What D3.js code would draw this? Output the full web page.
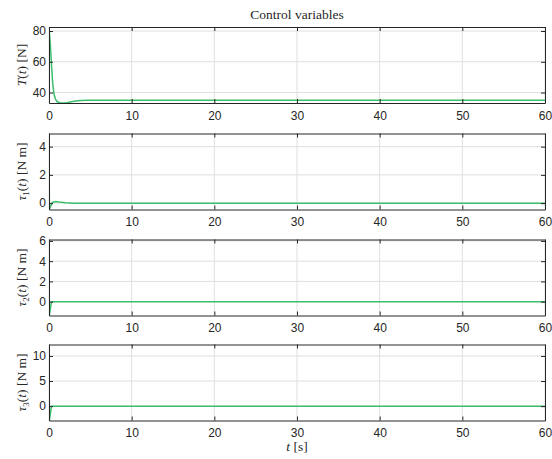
<!DOCTYPE html>
<html>
<head>
<meta charset="utf-8">
<script src="https://cdn.jsdelivr.net/npm/d3@7"></script>
<style>
  body { margin: 0; background: #fff; }
  .tick text { font-family: "Liberation Sans", Arial, sans-serif; font-size: 12px; fill: #262626; }
  .lbl { font-family: "Liberation Serif", "DejaVu Serif", serif; font-size: 13.5px; fill: #262626; }
</style>
</head>
<body>
<div class="vis"></div>
<script>
// time (s) and values
const thrustTime = [0, 0.15, 0.3, 0.45, 0.6, 0.8, 1.0, 1.3, 1.6, 1.9, 2.3, 2.7, 3.2, 3.8, 4.5, 5.5, 7, 10, 20, 60];
const thrustVals = [82.6, 72, 58, 46, 39, 35.5, 34, 33.4, 33.2, 33.2, 33.5, 34.0, 34.5, 34.8, 35.0, 35.0, 35.0, 35.0, 35.0, 35.0];

const tau1Time = [0, 0.05, 0.15, 0.4, 0.8, 1.2, 2, 3, 60];
const tau1Vals = [4.93, -0.45, -0.3, 0.05, 0.12, 0.08, 0.02, 0, 0];

const tau2Time = [0, 0.05, 0.3, 1, 60];
const tau2Vals = [6.14, -1.37, 0, 0, 0];

const tau3Time = [0, 0.05, 0.3, 1, 60];
const tau3Vals = [12.28, -2.86, 0, 0, 0];

const xTicks = [0, 10, 20, 30, 40, 50, 60];

const panels = [
  { time: thrustTime, vals: thrustVals, ticks: [40, 60, 80], sub: null, top: 27 },
  { time: tau1Time, vals: tau1Vals, ticks: [0, 2, 4], sub: "1", top: 133.5 },
  { time: tau2Time, vals: tau2Vals, ticks: [0, 2, 4, 6], sub: "2", top: 239.5 },
  { time: tau3Time, vals: tau3Vals, ticks: [0, 5, 10], sub: "3", top: 344.5 }
];

const W = 552, H = 459;
const left = 49, right = 545, ph = 76;
const green = "#3cbf6a", axisCol = "#262626", gridCol = "#dfdfdf";

const svg = d3.select(".vis").append("svg").attr("width", W).attr("height", H);

const x = d3.scaleLinear().domain([0, 60]).range([left, right]);

panels.forEach((p, i) => {
  const y = d3.scaleLinear().domain(d3.extent(p.vals)).range([p.top + ph, p.top]);
  const g = svg.append("g");

  // grid
  g.selectAll(".gx").data(xTicks).enter().append("line")
    .attr("x1", d => x(d)).attr("x2", d => x(d))
    .attr("y1", p.top).attr("y2", p.top + ph)
    .attr("stroke", gridCol).attr("stroke-width", 1);
  g.selectAll(".gy").data(p.ticks).enter().append("line")
    .attr("x1", left).attr("x2", right)
    .attr("y1", d => y(d)).attr("y2", d => y(d))
    .attr("stroke", gridCol).attr("stroke-width", 1);

  // clip + line
  const cid = "clip" + i;
  svg.append("clipPath").attr("id", cid).append("rect")
    .attr("x", left).attr("y", p.top).attr("width", right - left).attr("height", ph);
  const pts = p.time.map((t, k) => [t, p.vals[k]]);
  g.append("path").datum(pts)
    .attr("clip-path", "url(#" + cid + ")")
    .attr("fill", "none").attr("stroke", green).attr("stroke-width", 1.5)
    .attr("d", d3.line().x(d => x(d[0])).y(d => y(d[1])));

  // axes with inward ticks on all four sides
  const fmt = d3.format("d");
  const bottom = g.append("g").attr("transform", "translate(0," + (p.top + ph) + ")")
    .call(d3.axisBottom(x).tickValues(xTicks).tickSizeInner(-4).tickSizeOuter(0).tickPadding(8).tickFormat(fmt));
  const top = g.append("g").attr("transform", "translate(0," + p.top + ")")
    .call(d3.axisTop(x).tickValues(xTicks).tickSizeInner(-4).tickSizeOuter(0).tickFormat(""));
  const lax = g.append("g").attr("transform", "translate(" + left + ",0)")
    .call(d3.axisLeft(y).tickValues(p.ticks).tickSizeInner(-4).tickSizeOuter(0).tickPadding(3).tickFormat(fmt));
  const rax = g.append("g").attr("transform", "translate(" + right + ",0)")
    .call(d3.axisRight(y).tickValues(p.ticks).tickSizeInner(-4).tickSizeOuter(0).tickFormat(""));
  [bottom, top, lax, rax].forEach(a => {
    a.select(".domain").attr("stroke", axisCol).attr("stroke-width", 1);
    a.selectAll(".tick line").attr("stroke", axisCol);
  });

  // y label
  const cy = p.top + ph / 2;
  const t = g.append("text").attr("class", "lbl")
    .attr("transform", "translate(26," + cy + ") rotate(-90)")
    .attr("text-anchor", "middle");
  if (p.sub === null) {
    t.append("tspan").attr("font-style", "italic").text("T");
    t.append("tspan").text("(");
    t.append("tspan").attr("font-style", "italic").text("t");
    t.append("tspan").text(") [N]");
  } else {
    t.append("tspan").attr("font-style", "italic").text("τ");
    t.append("tspan").attr("font-size", "9px").attr("dy", 3).text(p.sub);
    t.append("tspan").attr("dy", -3).text("(");
    t.append("tspan").attr("font-style", "italic").text("t");
    t.append("tspan").text(") [N m]");
  }
});

// title
svg.append("text").attr("class", "lbl")
  .attr("x", (left + right) / 2).attr("y", 19)
  .attr("text-anchor", "middle").text("Control variables");

// x label
const xl = svg.append("text").attr("class", "lbl")
  .attr("x", (left + right) / 2).attr("y", 451).attr("text-anchor", "middle");
xl.append("tspan").attr("font-style", "italic").text("t");
xl.append("tspan").text(" [s]");
</script>
</body>
</html>
